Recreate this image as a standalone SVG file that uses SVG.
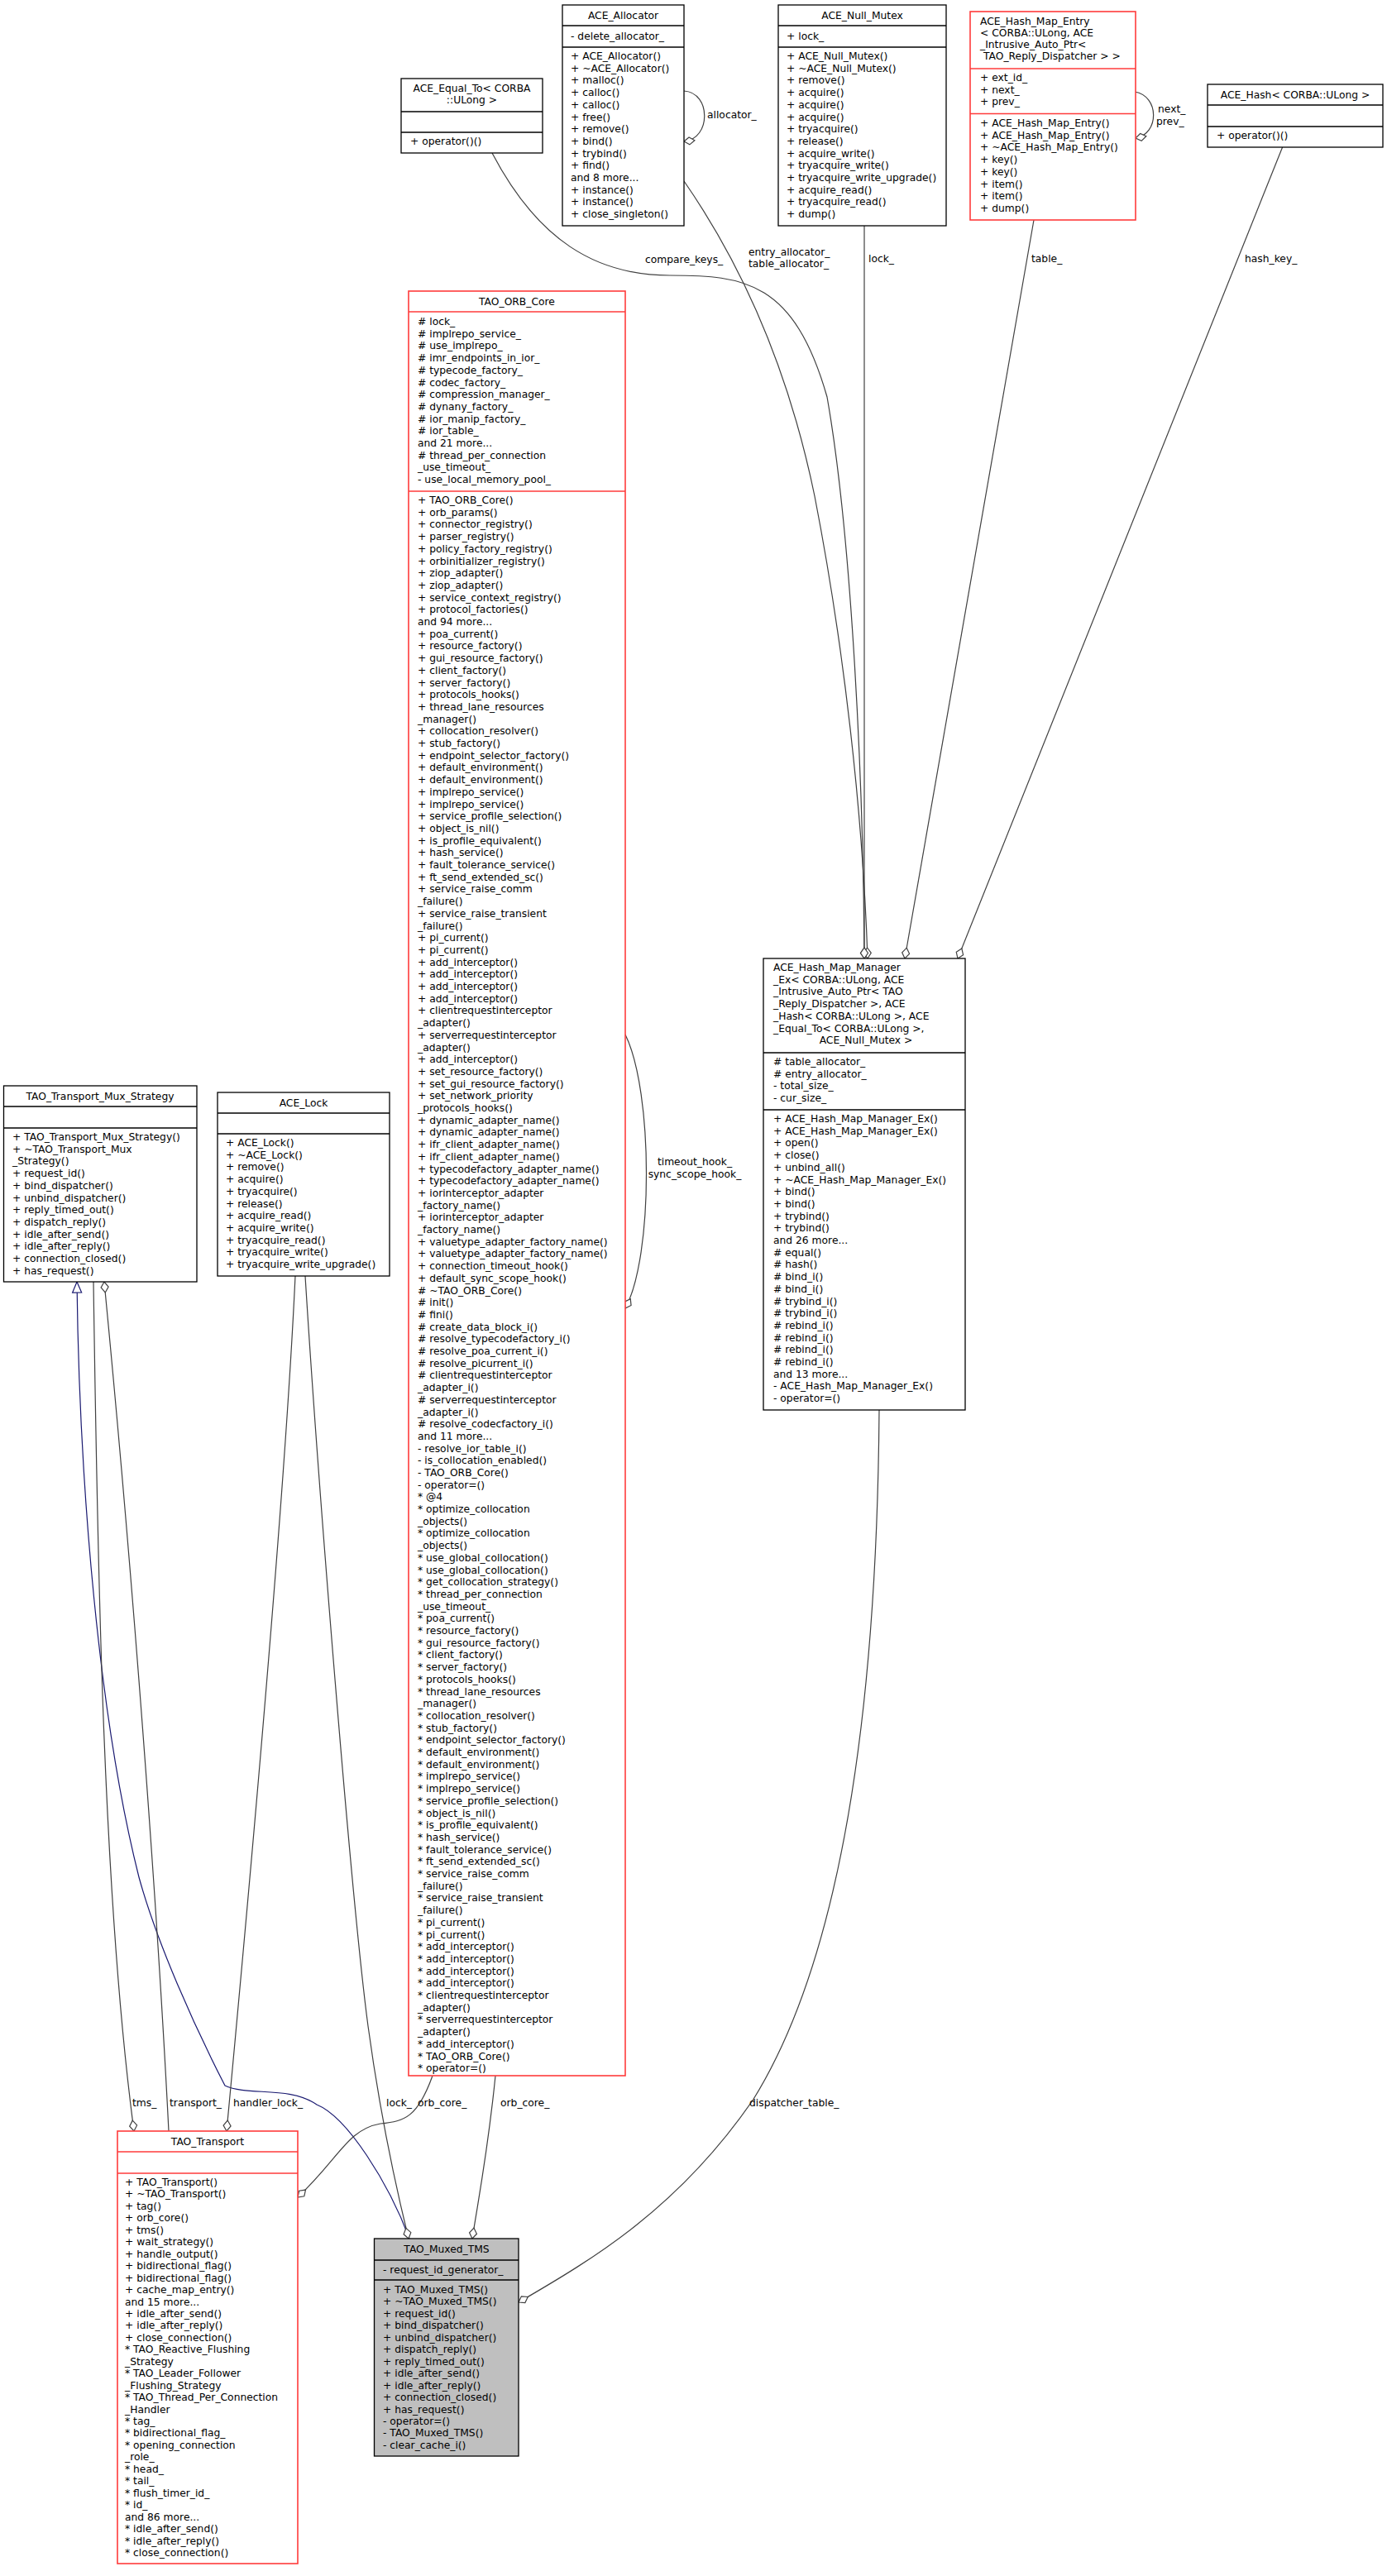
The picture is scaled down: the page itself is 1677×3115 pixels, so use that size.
<svg xmlns="http://www.w3.org/2000/svg" width="1677" height="3115" viewBox="0 0 1677 3115">
<style>
text{font-family:"DejaVu Sans","Liberation Sans",sans-serif;font-size:12.3px;fill:#000}
.c{text-anchor:middle}
.b{fill:#fff;stroke:#000;stroke-width:1.3}
.r{fill:#fff;stroke:#ff3b3b;stroke-width:1.6}
.g{fill:#bfbfbf;stroke:#000;stroke-width:1.3}
.sl{stroke:#000;stroke-width:1.3}
.sr{stroke:#ff3b3b;stroke-width:1.6}
.e{fill:none;stroke:#404040;stroke-width:1.2;marker-end:url(#dia)}
.i{fill:none;stroke:#191970;stroke-width:1.2;marker-end:url(#tri)}
</style>
<defs>
<marker id="dia" markerUnits="userSpaceOnUse" markerWidth="16" markerHeight="12" viewBox="-1 -6 15 12" refX="13" refY="0" orient="auto"><path d="M0,0 L6.5,-4.5 L13,0 L6.5,4.5 Z" fill="#fff" stroke="#404040" stroke-width="1.2"/></marker>
<marker id="tri" markerUnits="userSpaceOnUse" markerWidth="16" markerHeight="14" viewBox="-1 -7 15 14" refX="13" refY="0" orient="auto"><path d="M0,-5.5 L13,0 L0,5.5 Z" fill="#fff" stroke="#191970" stroke-width="1.2"/></marker>
</defs>
<rect width="1677" height="3115" fill="#fff"/>

<g id="connectors">
<path class="e" d="M595,185 C650,290 720,333 810,333 C900,333 960,340 1000,480 C1030,650 1044,950 1045,1159"/>
<text x="780" y="318">compare_keys_</text>
<path class="e" d="M827,219 C890,310 950,430 985,600 C1020,780 1043,980 1049,1159"/>
<text x="905" y="309">entry_allocator_</text>
<text x="905" y="323">table_allocator_</text>
<path class="e" d="M1045,273 L1045,1159"/>
<text x="1050" y="317">lock_</text>
<path class="e" d="M1250,266 L1094,1159"/>
<text x="1247" y="317">table_</text>
<path class="e" d="M1551,177 L1158,1159"/>
<text x="1505" y="317">hash_key_</text>
<path class="e" d="M827,110 C860,112 860,168 827,171"/>
<text x="855" y="143">allocator_</text>
<path class="e" d="M1372,111 C1402,116 1402,162 1373,167"/>
<text x="1400" y="136">next_</text>
<text x="1398" y="151">prev_</text>
<path class="e" d="M756,1251 C790,1320 790,1520 756,1582"/>
<text class="c" x="840" y="1409">timeout_hook_</text>
<text class="c" x="840" y="1424">sync_scope_hook_</text>
<path class="i" d="M495,2707 C470,2640 420,2560 383,2545 C350,2522 300,2535 272,2522 C235,2450 190,2350 168,2270 C120,2080 96,1800 93,1550"/>
<path class="e" d="M113,1550 C118,1900 125,2300 162,2577"/>
<text x="160" y="2547">tms_</text>
<path class="e" d="M204,2577 C190,2300 160,1900 126,1550"/>
<text x="205" y="2547">transport_</text>
<path class="e" d="M357,1543 C345,1800 300,2300 274,2577"/>
<text x="282" y="2547">handler_lock_</text>
<path class="e" d="M369,1543 C385,1800 425,2300 445,2450 C460,2560 480,2650 494,2707"/>
<text x="467" y="2547">lock_</text>
<path class="e" d="M523,2510 C505,2560 490,2565 460,2568 C420,2575 410,2610 360,2657"/>
<text x="505" y="2547">orb_core_</text>
<path class="e" d="M599,2510 C590,2600 580,2650 571,2707"/>
<text x="605" y="2547">orb_core_</text>
<path class="e" d="M1063,1705 C1060,2100 1010,2380 910,2540 C820,2670 720,2730 627,2784"/>
<text x="906" y="2547">dispatcher_table_</text>
</g>

<g id="ACE_Equal_To">
<rect class="b" x="485" y="95" width="171" height="90"/>
<line class="sl" x1="485" y1="135" x2="656" y2="135"/><line class="sl" x1="485" y1="160" x2="656" y2="160"/>
<text class="c" x="570.5" y="111">ACE_Equal_To&lt; CORBA</text>
<text class="c" x="570.5" y="125">::ULong &gt;</text>
<text x="496" y="175">+ operator()()</text>
</g>

<g id="ACE_Allocator">
<rect class="b" x="680" y="6" width="147" height="267"/>
<line class="sl" x1="680" y1="31" x2="827" y2="31"/><line class="sl" x1="680" y1="57" x2="827" y2="57"/>
<text class="c" x="753.5" y="23">ACE_Allocator</text>
<text x="690" y="48">- delete_allocator_</text>
<text x="690" y="72">+ ACE_Allocator()<tspan x="690" dy="14.7">+ ~ACE_Allocator()</tspan><tspan x="690" dy="14.7">+ malloc()</tspan><tspan x="690" dy="14.7">+ calloc()</tspan><tspan x="690" dy="14.7">+ calloc()</tspan><tspan x="690" dy="14.7">+ free()</tspan><tspan x="690" dy="14.7">+ remove()</tspan><tspan x="690" dy="14.7">+ bind()</tspan><tspan x="690" dy="14.7">+ trybind()</tspan><tspan x="690" dy="14.7">+ find()</tspan><tspan x="690" dy="14.7">and 8 more...</tspan><tspan x="690" dy="14.7">+ instance()</tspan><tspan x="690" dy="14.7">+ instance()</tspan><tspan x="690" dy="14.7">+ close_singleton()</tspan></text>
</g>

<g id="ACE_Null_Mutex">
<rect class="b" x="941" y="6" width="203" height="267"/>
<line class="sl" x1="941" y1="31" x2="1144" y2="31"/><line class="sl" x1="941" y1="57" x2="1144" y2="57"/>
<text class="c" x="1042.5" y="23">ACE_Null_Mutex</text>
<text x="951" y="48">+ lock_</text>
<text x="951" y="72">+ ACE_Null_Mutex()<tspan x="951" dy="14.7">+ ~ACE_Null_Mutex()</tspan><tspan x="951" dy="14.7">+ remove()</tspan><tspan x="951" dy="14.7">+ acquire()</tspan><tspan x="951" dy="14.7">+ acquire()</tspan><tspan x="951" dy="14.7">+ acquire()</tspan><tspan x="951" dy="14.7">+ tryacquire()</tspan><tspan x="951" dy="14.7">+ release()</tspan><tspan x="951" dy="14.7">+ acquire_write()</tspan><tspan x="951" dy="14.7">+ tryacquire_write()</tspan><tspan x="951" dy="14.7">+ tryacquire_write_upgrade()</tspan><tspan x="951" dy="14.7">+ acquire_read()</tspan><tspan x="951" dy="14.7">+ tryacquire_read()</tspan><tspan x="951" dy="14.7">+ dump()</tspan></text>
</g>

<g id="ACE_Hash_Map_Entry">
<rect class="r" x="1173" y="14" width="200" height="252"/>
<line class="sr" x1="1173" y1="83" x2="1373" y2="83"/><line class="sr" x1="1173" y1="137.5" x2="1373" y2="137.5"/>
<text x="1185" y="30">ACE_Hash_Map_Entry<tspan x="1185" dy="14">&lt; CORBA::ULong, ACE</tspan><tspan x="1185" dy="14">_Intrusive_Auto_Ptr&lt;</tspan><tspan x="1189" dy="14">TAO_Reply_Dispatcher &gt; &gt;</tspan></text>
<text x="1185" y="98">+ ext_id_<tspan x="1185" dy="14.7">+ next_</tspan><tspan x="1185" dy="14.7">+ prev_</tspan></text>
<text x="1185" y="153">+ ACE_Hash_Map_Entry()<tspan x="1185" dy="14.7">+ ACE_Hash_Map_Entry()</tspan><tspan x="1185" dy="14.7">+ ~ACE_Hash_Map_Entry()</tspan><tspan x="1185" dy="14.7">+ key()</tspan><tspan x="1185" dy="14.7">+ key()</tspan><tspan x="1185" dy="14.7">+ item()</tspan><tspan x="1185" dy="14.7">+ item()</tspan><tspan x="1185" dy="14.7">+ dump()</tspan></text>
</g>

<g id="ACE_Hash">
<rect class="b" x="1460" y="102" width="212" height="76"/>
<line class="sl" x1="1460" y1="127" x2="1672" y2="127"/><line class="sl" x1="1460" y1="153" x2="1672" y2="153"/>
<text class="c" x="1566" y="119">ACE_Hash&lt; CORBA::ULong &gt;</text>
<text x="1471" y="168">+ operator()()</text>
</g>

<g id="TAO_ORB_Core">
<rect class="r" x="494" y="352" width="262" height="2158"/>
<line class="sr" x1="494" y1="377" x2="756" y2="377"/><line class="sr" x1="494" y1="594" x2="756" y2="594"/>
<text class="c" x="625" y="369">TAO_ORB_Core</text>
<text x="505" y="393"># lock_<tspan x="505" dy="14.7"># implrepo_service_</tspan><tspan x="505" dy="14.7"># use_implrepo_</tspan><tspan x="505" dy="14.7"># imr_endpoints_in_ior_</tspan><tspan x="505" dy="14.7"># typecode_factory_</tspan><tspan x="505" dy="14.7"># codec_factory_</tspan><tspan x="505" dy="14.7"># compression_manager_</tspan><tspan x="505" dy="14.7"># dynany_factory_</tspan><tspan x="505" dy="14.7"># ior_manip_factory_</tspan><tspan x="505" dy="14.7"># ior_table_</tspan><tspan x="505" dy="14.7">and 21 more...</tspan><tspan x="505" dy="14.7"># thread_per_connection</tspan><tspan x="505" dy="14.7">_use_timeout_</tspan><tspan x="505" dy="14.7">- use_local_memory_pool_</tspan></text>
<text x="505" y="609">+ TAO_ORB_Core()<tspan x="505" dy="14.7">+ orb_params()</tspan><tspan x="505" dy="14.7">+ connector_registry()</tspan><tspan x="505" dy="14.7">+ parser_registry()</tspan><tspan x="505" dy="14.7">+ policy_factory_registry()</tspan><tspan x="505" dy="14.7">+ orbinitializer_registry()</tspan><tspan x="505" dy="14.7">+ ziop_adapter()</tspan><tspan x="505" dy="14.7">+ ziop_adapter()</tspan><tspan x="505" dy="14.7">+ service_context_registry()</tspan><tspan x="505" dy="14.7">+ protocol_factories()</tspan><tspan x="505" dy="14.7">and 94 more...</tspan><tspan x="505" dy="14.7">+ poa_current()</tspan><tspan x="505" dy="14.7">+ resource_factory()</tspan><tspan x="505" dy="14.7">+ gui_resource_factory()</tspan><tspan x="505" dy="14.7">+ client_factory()</tspan><tspan x="505" dy="14.7">+ server_factory()</tspan><tspan x="505" dy="14.7">+ protocols_hooks()</tspan><tspan x="505" dy="14.7">+ thread_lane_resources</tspan><tspan x="505" dy="14.7">_manager()</tspan><tspan x="505" dy="14.7">+ collocation_resolver()</tspan><tspan x="505" dy="14.7">+ stub_factory()</tspan><tspan x="505" dy="14.7">+ endpoint_selector_factory()</tspan><tspan x="505" dy="14.7">+ default_environment()</tspan><tspan x="505" dy="14.7">+ default_environment()</tspan><tspan x="505" dy="14.7">+ implrepo_service()</tspan><tspan x="505" dy="14.7">+ implrepo_service()</tspan><tspan x="505" dy="14.7">+ service_profile_selection()</tspan><tspan x="505" dy="14.7">+ object_is_nil()</tspan><tspan x="505" dy="14.7">+ is_profile_equivalent()</tspan><tspan x="505" dy="14.7">+ hash_service()</tspan><tspan x="505" dy="14.7">+ fault_tolerance_service()</tspan><tspan x="505" dy="14.7">+ ft_send_extended_sc()</tspan><tspan x="505" dy="14.7">+ service_raise_comm</tspan><tspan x="505" dy="14.7">_failure()</tspan><tspan x="505" dy="14.7">+ service_raise_transient</tspan><tspan x="505" dy="14.7">_failure()</tspan><tspan x="505" dy="14.7">+ pi_current()</tspan><tspan x="505" dy="14.7">+ pi_current()</tspan><tspan x="505" dy="14.7">+ add_interceptor()</tspan><tspan x="505" dy="14.7">+ add_interceptor()</tspan><tspan x="505" dy="14.7">+ add_interceptor()</tspan><tspan x="505" dy="14.7">+ add_interceptor()</tspan><tspan x="505" dy="14.7">+ clientrequestinterceptor</tspan><tspan x="505" dy="14.7">_adapter()</tspan><tspan x="505" dy="14.7">+ serverrequestinterceptor</tspan><tspan x="505" dy="14.7">_adapter()</tspan><tspan x="505" dy="14.7">+ add_interceptor()</tspan><tspan x="505" dy="14.7">+ set_resource_factory()</tspan><tspan x="505" dy="14.7">+ set_gui_resource_factory()</tspan><tspan x="505" dy="14.7">+ set_network_priority</tspan><tspan x="505" dy="14.7">_protocols_hooks()</tspan><tspan x="505" dy="14.7">+ dynamic_adapter_name()</tspan><tspan x="505" dy="14.7">+ dynamic_adapter_name()</tspan><tspan x="505" dy="14.7">+ ifr_client_adapter_name()</tspan><tspan x="505" dy="14.7">+ ifr_client_adapter_name()</tspan><tspan x="505" dy="14.7">+ typecodefactory_adapter_name()</tspan><tspan x="505" dy="14.7">+ typecodefactory_adapter_name()</tspan><tspan x="505" dy="14.7">+ iorinterceptor_adapter</tspan><tspan x="505" dy="14.7">_factory_name()</tspan><tspan x="505" dy="14.7">+ iorinterceptor_adapter</tspan><tspan x="505" dy="14.7">_factory_name()</tspan><tspan x="505" dy="14.7">+ valuetype_adapter_factory_name()</tspan><tspan x="505" dy="14.7">+ valuetype_adapter_factory_name()</tspan><tspan x="505" dy="14.7">+ connection_timeout_hook()</tspan><tspan x="505" dy="14.7">+ default_sync_scope_hook()</tspan><tspan x="505" dy="14.7"># ~TAO_ORB_Core()</tspan><tspan x="505" dy="14.7"># init()</tspan><tspan x="505" dy="14.7"># fini()</tspan><tspan x="505" dy="14.7"># create_data_block_i()</tspan><tspan x="505" dy="14.7"># resolve_typecodefactory_i()</tspan><tspan x="505" dy="14.7"># resolve_poa_current_i()</tspan><tspan x="505" dy="14.7"># resolve_picurrent_i()</tspan><tspan x="505" dy="14.7"># clientrequestinterceptor</tspan><tspan x="505" dy="14.7">_adapter_i()</tspan><tspan x="505" dy="14.7"># serverrequestinterceptor</tspan><tspan x="505" dy="14.7">_adapter_i()</tspan><tspan x="505" dy="14.7"># resolve_codecfactory_i()</tspan><tspan x="505" dy="14.7">and 11 more...</tspan><tspan x="505" dy="14.7">- resolve_ior_table_i()</tspan><tspan x="505" dy="14.7">- is_collocation_enabled()</tspan><tspan x="505" dy="14.7">- TAO_ORB_Core()</tspan><tspan x="505" dy="14.7">- operator=()</tspan><tspan x="505" dy="14.7">* @4</tspan><tspan x="505" dy="14.7">* optimize_collocation</tspan><tspan x="505" dy="14.7">_objects()</tspan><tspan x="505" dy="14.7">* optimize_collocation</tspan><tspan x="505" dy="14.7">_objects()</tspan><tspan x="505" dy="14.7">* use_global_collocation()</tspan><tspan x="505" dy="14.7">* use_global_collocation()</tspan><tspan x="505" dy="14.7">* get_collocation_strategy()</tspan><tspan x="505" dy="14.7">* thread_per_connection</tspan><tspan x="505" dy="14.7">_use_timeout_</tspan><tspan x="505" dy="14.7">* poa_current()</tspan><tspan x="505" dy="14.7">* resource_factory()</tspan><tspan x="505" dy="14.7">* gui_resource_factory()</tspan><tspan x="505" dy="14.7">* client_factory()</tspan><tspan x="505" dy="14.7">* server_factory()</tspan><tspan x="505" dy="14.7">* protocols_hooks()</tspan><tspan x="505" dy="14.7">* thread_lane_resources</tspan><tspan x="505" dy="14.7">_manager()</tspan><tspan x="505" dy="14.7">* collocation_resolver()</tspan><tspan x="505" dy="14.7">* stub_factory()</tspan><tspan x="505" dy="14.7">* endpoint_selector_factory()</tspan><tspan x="505" dy="14.7">* default_environment()</tspan><tspan x="505" dy="14.7">* default_environment()</tspan><tspan x="505" dy="14.7">* implrepo_service()</tspan><tspan x="505" dy="14.7">* implrepo_service()</tspan><tspan x="505" dy="14.7">* service_profile_selection()</tspan><tspan x="505" dy="14.7">* object_is_nil()</tspan><tspan x="505" dy="14.7">* is_profile_equivalent()</tspan><tspan x="505" dy="14.7">* hash_service()</tspan><tspan x="505" dy="14.7">* fault_tolerance_service()</tspan><tspan x="505" dy="14.7">* ft_send_extended_sc()</tspan><tspan x="505" dy="14.7">* service_raise_comm</tspan><tspan x="505" dy="14.7">_failure()</tspan><tspan x="505" dy="14.7">* service_raise_transient</tspan><tspan x="505" dy="14.7">_failure()</tspan><tspan x="505" dy="14.7">* pi_current()</tspan><tspan x="505" dy="14.7">* pi_current()</tspan><tspan x="505" dy="14.7">* add_interceptor()</tspan><tspan x="505" dy="14.7">* add_interceptor()</tspan><tspan x="505" dy="14.7">* add_interceptor()</tspan><tspan x="505" dy="14.7">* add_interceptor()</tspan><tspan x="505" dy="14.7">* clientrequestinterceptor</tspan><tspan x="505" dy="14.7">_adapter()</tspan><tspan x="505" dy="14.7">* serverrequestinterceptor</tspan><tspan x="505" dy="14.7">_adapter()</tspan><tspan x="505" dy="14.7">* add_interceptor()</tspan><tspan x="505" dy="14.7">* TAO_ORB_Core()</tspan><tspan x="505" dy="14.7">* operator=()</tspan></text>
</g>

<g id="ACE_Hash_Map_Manager_Ex">
<rect class="b" x="923" y="1159" width="244" height="546"/>
<line class="sl" x1="923" y1="1273" x2="1167" y2="1273"/><line class="sl" x1="923" y1="1342" x2="1167" y2="1342"/>
<text x="935" y="1174">ACE_Hash_Map_Manager<tspan x="935" dy="14.7">_Ex&lt; CORBA::ULong, ACE</tspan><tspan x="935" dy="14.7">_Intrusive_Auto_Ptr&lt; TAO</tspan><tspan x="935" dy="14.7">_Reply_Dispatcher &gt;, ACE</tspan><tspan x="935" dy="14.7">_Hash&lt; CORBA::ULong &gt;, ACE</tspan><tspan x="935" dy="14.7">_Equal_To&lt; CORBA::ULong &gt;,</tspan></text>
<text class="c" x="1047" y="1262">ACE_Null_Mutex &gt;</text>
<text x="935" y="1288"># table_allocator_<tspan x="935" dy="14.7"># entry_allocator_</tspan><tspan x="935" dy="14.7">- total_size_</tspan><tspan x="935" dy="14.7">- cur_size_</tspan></text>
<text x="935" y="1357">+ ACE_Hash_Map_Manager_Ex()<tspan x="935" dy="14.7">+ ACE_Hash_Map_Manager_Ex()</tspan><tspan x="935" dy="14.7">+ open()</tspan><tspan x="935" dy="14.7">+ close()</tspan><tspan x="935" dy="14.7">+ unbind_all()</tspan><tspan x="935" dy="14.7">+ ~ACE_Hash_Map_Manager_Ex()</tspan><tspan x="935" dy="14.7">+ bind()</tspan><tspan x="935" dy="14.7">+ bind()</tspan><tspan x="935" dy="14.7">+ trybind()</tspan><tspan x="935" dy="14.7">+ trybind()</tspan><tspan x="935" dy="14.7">and 26 more...</tspan><tspan x="935" dy="14.7"># equal()</tspan><tspan x="935" dy="14.7"># hash()</tspan><tspan x="935" dy="14.7"># bind_i()</tspan><tspan x="935" dy="14.7"># bind_i()</tspan><tspan x="935" dy="14.7"># trybind_i()</tspan><tspan x="935" dy="14.7"># trybind_i()</tspan><tspan x="935" dy="14.7"># rebind_i()</tspan><tspan x="935" dy="14.7"># rebind_i()</tspan><tspan x="935" dy="14.7"># rebind_i()</tspan><tspan x="935" dy="14.7"># rebind_i()</tspan><tspan x="935" dy="14.7">and 13 more...</tspan><tspan x="935" dy="14.7">- ACE_Hash_Map_Manager_Ex()</tspan><tspan x="935" dy="14.7">- operator=()</tspan></text>
</g>

<g id="TAO_Transport_Mux_Strategy">
<rect class="b" x="4.5" y="1313" width="233.5" height="237"/>
<line class="sl" x1="4.5" y1="1338" x2="238" y2="1338"/><line class="sl" x1="4.5" y1="1364" x2="238" y2="1364"/>
<text class="c" x="121" y="1330">TAO_Transport_Mux_Strategy</text>
<text x="15" y="1379">+ TAO_Transport_Mux_Strategy()<tspan x="15" dy="14.7">+ ~TAO_Transport_Mux</tspan><tspan x="15" dy="14.7">_Strategy()</tspan><tspan x="15" dy="14.7">+ request_id()</tspan><tspan x="15" dy="14.7">+ bind_dispatcher()</tspan><tspan x="15" dy="14.7">+ unbind_dispatcher()</tspan><tspan x="15" dy="14.7">+ reply_timed_out()</tspan><tspan x="15" dy="14.7">+ dispatch_reply()</tspan><tspan x="15" dy="14.7">+ idle_after_send()</tspan><tspan x="15" dy="14.7">+ idle_after_reply()</tspan><tspan x="15" dy="14.7">+ connection_closed()</tspan><tspan x="15" dy="14.7">+ has_request()</tspan></text>
</g>

<g id="ACE_Lock">
<rect class="b" x="263" y="1321" width="208" height="222"/>
<line class="sl" x1="263" y1="1346" x2="471" y2="1346"/><line class="sl" x1="263" y1="1371" x2="471" y2="1371"/>
<text class="c" x="367" y="1338">ACE_Lock</text>
<text x="273" y="1386">+ ACE_Lock()<tspan x="273" dy="14.7">+ ~ACE_Lock()</tspan><tspan x="273" dy="14.7">+ remove()</tspan><tspan x="273" dy="14.7">+ acquire()</tspan><tspan x="273" dy="14.7">+ tryacquire()</tspan><tspan x="273" dy="14.7">+ release()</tspan><tspan x="273" dy="14.7">+ acquire_read()</tspan><tspan x="273" dy="14.7">+ acquire_write()</tspan><tspan x="273" dy="14.7">+ tryacquire_read()</tspan><tspan x="273" dy="14.7">+ tryacquire_write()</tspan><tspan x="273" dy="14.7">+ tryacquire_write_upgrade()</tspan></text>
</g>

<g id="TAO_Transport">
<rect class="r" x="142" y="2577" width="218" height="523"/>
<line class="sr" x1="142" y1="2602" x2="360" y2="2602"/><line class="sr" x1="142" y1="2628" x2="360" y2="2628"/>
<text class="c" x="251" y="2594">TAO_Transport</text>
<text x="151" y="2643">+ TAO_Transport()<tspan x="151" dy="14.45">+ ~TAO_Transport()</tspan><tspan x="151" dy="14.45">+ tag()</tspan><tspan x="151" dy="14.45">+ orb_core()</tspan><tspan x="151" dy="14.45">+ tms()</tspan><tspan x="151" dy="14.45">+ wait_strategy()</tspan><tspan x="151" dy="14.45">+ handle_output()</tspan><tspan x="151" dy="14.45">+ bidirectional_flag()</tspan><tspan x="151" dy="14.45">+ bidirectional_flag()</tspan><tspan x="151" dy="14.45">+ cache_map_entry()</tspan><tspan x="151" dy="14.45">and 15 more...</tspan><tspan x="151" dy="14.45">+ idle_after_send()</tspan><tspan x="151" dy="14.45">+ idle_after_reply()</tspan><tspan x="151" dy="14.45">+ close_connection()</tspan><tspan x="151" dy="14.45">* TAO_Reactive_Flushing</tspan><tspan x="151" dy="14.45">_Strategy</tspan><tspan x="151" dy="14.45">* TAO_Leader_Follower</tspan><tspan x="151" dy="14.45">_Flushing_Strategy</tspan><tspan x="151" dy="14.45">* TAO_Thread_Per_Connection</tspan><tspan x="151" dy="14.45">_Handler</tspan><tspan x="151" dy="14.45">* tag_</tspan><tspan x="151" dy="14.45">* bidirectional_flag_</tspan><tspan x="151" dy="14.45">* opening_connection</tspan><tspan x="151" dy="14.45">_role_</tspan><tspan x="151" dy="14.45">* head_</tspan><tspan x="151" dy="14.45">* tail_</tspan><tspan x="151" dy="14.45">* flush_timer_id_</tspan><tspan x="151" dy="14.45">* id_</tspan><tspan x="151" dy="14.45">and 86 more...</tspan><tspan x="151" dy="14.45">* idle_after_send()</tspan><tspan x="151" dy="14.45">* idle_after_reply()</tspan><tspan x="151" dy="14.45">* close_connection()</tspan></text>
</g>

<g id="TAO_Muxed_TMS">
<rect class="g" x="452.5" y="2707" width="174.5" height="263"/>
<line class="sl" x1="452.5" y1="2733" x2="627" y2="2733"/><line class="sl" x1="452.5" y1="2757" x2="627" y2="2757"/>
<text class="c" x="540" y="2724">TAO_Muxed_TMS</text>
<text x="463" y="2749">- request_id_generator_</text>
<text x="463" y="2773">+ TAO_Muxed_TMS()<tspan x="463" dy="14.45">+ ~TAO_Muxed_TMS()</tspan><tspan x="463" dy="14.45">+ request_id()</tspan><tspan x="463" dy="14.45">+ bind_dispatcher()</tspan><tspan x="463" dy="14.45">+ unbind_dispatcher()</tspan><tspan x="463" dy="14.45">+ dispatch_reply()</tspan><tspan x="463" dy="14.45">+ reply_timed_out()</tspan><tspan x="463" dy="14.45">+ idle_after_send()</tspan><tspan x="463" dy="14.45">+ idle_after_reply()</tspan><tspan x="463" dy="14.45">+ connection_closed()</tspan><tspan x="463" dy="14.45">+ has_request()</tspan><tspan x="463" dy="14.45">- operator=()</tspan><tspan x="463" dy="14.45">- TAO_Muxed_TMS()</tspan><tspan x="463" dy="14.45">- clear_cache_i()</tspan></text>
</g>
</svg>
